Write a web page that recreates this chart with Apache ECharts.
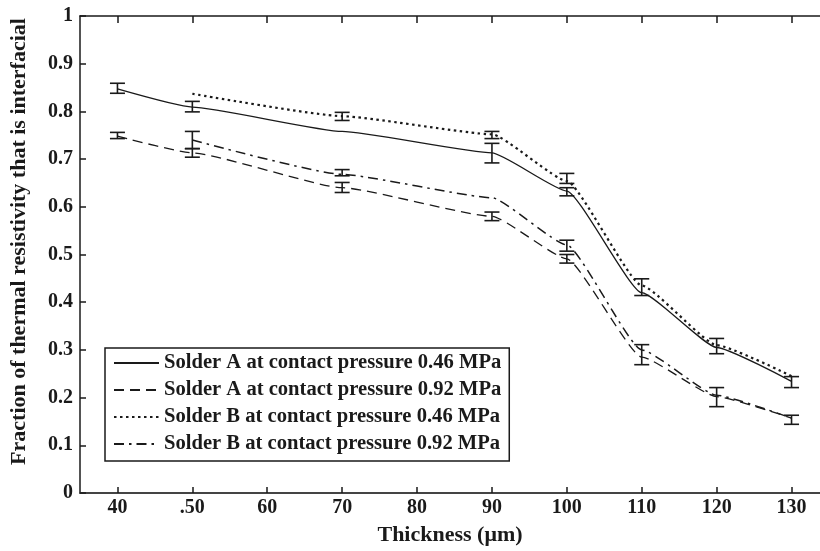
<!DOCTYPE html>
<html>
<head>
    <meta charset="utf-8">
    <script src="https://cdn.jsdelivr.net/npm/echarts@6/dist/echarts.min.js"></script>
</head>
<body style="margin:0;background:#fff">
<div id="main" style="width: 820px;height:551px;"></div>

<script type="text/javascript">
    // thickness points (um)
    var xA = [40, 50, 70, 90, 100, 110, 120, 130];
    var xB = [50, 70, 90, 100, 110, 120, 130];

    // fraction values
    var solderA046 = [0.847, 0.809, 0.758, 0.713, 0.633, 0.420, 0.305, 0.234];
    var solderA092 = [0.748, 0.713, 0.640, 0.580, 0.491, 0.285, 0.202, 0.157];
    var solderB046 = [0.837, 0.790, 0.752, 0.654, 0.435, 0.310, 0.245];
    var solderB092 = [0.740, 0.668, 0.619, 0.520, 0.300, 0.205, 0.157];

    // error bars: [thickness, low, high]
    var errA046 = [[40, 0.838, 0.859], [50, 0.799, 0.821], [90, 0.692, 0.733], [100, 0.623, 0.640],
                   [110, 0.414, 0.449], [120, 0.292, 0.324], [130, 0.221, 0.244]];
    var errA092 = [[40, 0.743, 0.756], [50, 0.704, 0.722], [70, 0.630, 0.651], [90, 0.571, 0.589],
                   [100, 0.482, 0.500], [110, 0.269, 0.311], [120, 0.181, 0.221], [130, 0.144, 0.163]];
    var errB046 = [[70, 0.781, 0.798], [90, 0.743, 0.758], [100, 0.649, 0.670]];
    var errB092 = [[50, 0.722, 0.758], [70, 0.665, 0.678], [100, 0.507, 0.530]];

    var xTicks = [40, 50, 60, 70, 80, 90, 100, 110, 120, 130];
    var xTickLabels = ['40', '.50', '60', '70', '80', '90', '100', '110', '120', '130'];

    var names = ['Solder A at contact pressure 0.46 MPa', 'Solder A at contact pressure 0.92 MPa',
                 'Solder B at contact pressure 0.46 MPa', 'Solder B at contact pressure 0.92 MPa'];

    var ink = '#1a1a1a';
    var serif = '"Liberation Serif", "DejaVu Serif", serif';

    var zip = function (xs, ys) {
        return xs.map(function (x, i) { return [x, ys[i]]; });
    };

    var errorSeries = function (data) {
        return {
            type: 'custom',
            silent: true,
            data: data,
            z: 3,
            renderItem: function (params, api) {
                var top = api.coord([api.value(0), api.value(2)]);
                var bot = api.coord([api.value(0), api.value(1)]);
                var w = 7.5;
                var st = { stroke: ink, lineWidth: 1.6 };
                return {
                    type: 'group',
                    children: [
                        { type: 'line', shape: { x1: top[0], y1: top[1], x2: bot[0], y2: bot[1] }, style: st },
                        { type: 'line', shape: { x1: top[0] - w, y1: top[1], x2: top[0] + w, y2: top[1] }, style: st },
                        { type: 'line', shape: { x1: bot[0] - w, y1: bot[1], x2: bot[0] + w, y2: bot[1] }, style: st }
                    ]
                };
            }
        };
    };

    var lineSeries = function (name, data, dash, width) {
        return {
            name: name,
            type: 'line',
            data: data,
            symbol: 'none',
            smooth: 0.15,
            smoothMonotone: 'x',
            lineStyle: { color: ink, width: width, type: dash },
            itemStyle: { color: ink }
        };
    };

    var myChart = echarts.init(document.getElementById('main'));

    var option = {
        animation: false,
        grid: { left: 79, right: 0, top: 16, bottom: 56 },
        legend: {
            orient: 'vertical',
            left: 105,
            top: 348,
            padding: [4, 8, 6, 8],
            itemWidth: 45,
            itemHeight: 14,
            itemGap: 5,
            itemStyle: { opacity: 0 },
            borderColor: ink,
            borderWidth: 1.5,
            backgroundColor: '#fff',
            data: names,
            textStyle: { fontFamily: serif, fontWeight: 'bold', fontSize: 20.6, color: ink, lineHeight: 22 }
        },
        xAxis: [{
            type: 'value',
            min: 35,
            max: 133.8,
            name: 'Thickness (\u03bcm)',
            nameLocation: 'middle',
            nameGap: 31,
            nameTextStyle: { fontFamily: serif, fontWeight: 'bold', fontSize: 22, color: ink },
            splitLine: { show: false },
            axisLine: { lineStyle: { color: '#444', width: 2 } },
            axisTick: { inside: true, length: 6, customValues: xTicks, lineStyle: { color: ink, width: 1.5 } },
            axisLabel: {
                customValues: xTicks,
                margin: 5,
                fontFamily: serif, fontWeight: 'bold', fontSize: 20, color: ink,
                formatter: function (v) { return xTickLabels[xTicks.indexOf(v)]; }
            }
        }, {
            type: 'value',
            position: 'top',
            min: 35,
            max: 133.8,
            splitLine: { show: false },
            axisLine: { lineStyle: { color: ink, width: 1.5 } },
            axisTick: { inside: true, length: 7, customValues: xTicks, lineStyle: { color: ink, width: 1.5 } },
            axisLabel: { show: false }
        }],
        yAxis: {
            type: 'value',
            min: 0,
            max: 1,
            interval: 0.1,
            name: 'Fraction of thermal resistivity that is interfacial',
            nameLocation: 'middle',
            nameGap: 50,
            nameTextStyle: { fontFamily: serif, fontWeight: 'bold', fontSize: 22, color: ink, padding: [0, 0, 0, 26] },
            splitLine: { show: false },
            axisLine: { lineStyle: { color: ink, width: 1.5 } },
            axisTick: { inside: true, length: 6, lineStyle: { color: ink, width: 1.5 } },
            axisLabel: { margin: 7, fontFamily: serif, fontWeight: 'bold', fontSize: 20, color: ink }
        },
        series: [
            lineSeries(names[0], zip(xA, solderA046), 'solid', 1.3),
            lineSeries(names[1], zip(xA, solderA092), [10, 6], 1.3),
            lineSeries(names[2], zip(xB, solderB046), [2.5, 3.5], 2.2),
            lineSeries(names[3], zip(xB, solderB092), [10, 5, 2.5, 5], 1.5),
            errorSeries(errA046),
            errorSeries(errA092),
            errorSeries(errB046),
            errorSeries(errB092)
        ]
    };

    myChart.setOption(option);
</script>
</body>
</html>
